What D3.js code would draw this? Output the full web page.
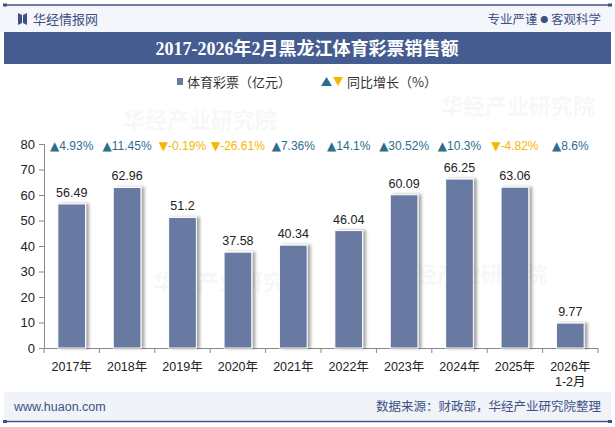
<!DOCTYPE html>
<html>
<head>
<meta charset="utf-8">
<script src="https://cdn.jsdelivr.net/npm/d3@7"></script>
<style>
  body { margin: 0; background: #fff; }
  svg { display: block; font-family: "Liberation Sans", Arial, "Noto Sans CJK SC", sans-serif; }
</style>
</head>
<body>
<div id="chart"></div>
<script>
// data
var years = ["2017年", "2018年", "2019年", "2020年", "2021年", "2022年", "2023年", "2024年", "2025年", "2026年\n1-2月"];
var sales = [56.49, 62.96, 51.2, 37.58, 40.34, 46.04, 60.09, 66.25, 63.06, 9.77];
var growth = [4.93, 11.45, -0.19, -26.61, 7.36, 14.1, 30.52, 10.3, -4.82, 8.6];
var growthText = ["4.93%", "11.45%", "-0.19%", "-26.61%", "7.36%", "14.1%", "30.52%", "10.3%", "-4.82%", "8.6%"];
var yTicks = [0, 10, 20, 30, 40, 50, 60, 70, 80];

var w = 615, h = 427;
var barColor = "#6879a2";
var upColor = "#2f6d8e";
var downColor = "#f5b800";

var svg = d3.select("#chart").append("svg")
  .attr("width", w)
  .attr("height", h);

var defs = svg.append("defs");
var f = defs.append("filter").attr("id", "shadow")
  .attr("x", "-20%").attr("y", "-5%").attr("width", "160%").attr("height", "110%");
f.append("feDropShadow")
  .attr("dx", 3).attr("dy", 0).attr("stdDeviation", 1.6)
  .attr("flood-color", "#000").attr("flood-opacity", 0.35);

// header
svg.append("rect").attr("x", 0).attr("y", 5).attr("width", w).attr("height", 27).attr("fill", "#f4f6fb");
svg.append("line").attr("x1", 4).attr("x2", 611).attr("y1", 5).attr("y2", 5)
  .attr("stroke", "#3d5184").attr("stroke-width", 1.5);
svg.append("rect").attr("x", 3).attr("y", 3.5).attr("width", 4).attr("height", 3).attr("fill", "#3d5184");
svg.append("rect").attr("x", 608).attr("y", 3.5).attr("width", 4).attr("height", 3).attr("fill", "#3d5184");

// logo
svg.append("path")
  .attr("d", "M18,13 L22,15 L22,23 L18,25 Z M27,13 L23,15 L23,23 L27,25 Z")
  .attr("fill", "#3d5184");
svg.append("text").attr("x", 33).attr("y", 23.5).text("华经情报网")
  .attr("font-size", 13).attr("fill", "#3d5184").attr("font-family", "Noto Sans CJK SC");
var slogan = svg.append("text").attr("x", 601).attr("y", 23.5).attr("text-anchor", "end")
  .attr("font-size", 12.5).attr("fill", "#3d5184").attr("font-family", "Noto Sans CJK SC");
slogan.append("tspan").text("专业严谨 ");
slogan.append("tspan").text("●").attr("font-size", 8).attr("dy", -1);
slogan.append("tspan").text(" 客观科学").attr("dy", 1);

// title band
svg.append("rect").attr("x", 4).attr("y", 32).attr("width", 607).attr("height", 32).attr("fill", "#455c91");
svg.append("text").attr("x", 307).attr("y", 54.5).attr("text-anchor", "middle")
  .text("2017-2026年2月黑龙江体育彩票销售额")
  .attr("font-size", 18).attr("font-weight", "bold").attr("fill", "#fff")
  .attr("font-family", "'Liberation Serif', 'Noto Sans CJK SC', serif");

// faint watermarks
var wm = [[200, 128], [518, 114], [230, 290], [470, 282]];
wm.forEach(function(p) {
  svg.append("text").attr("x", p[0]).attr("y", p[1]).attr("text-anchor", "middle")
    .text("华经产业研究院")
    .attr("font-size", 22).attr("font-weight", "bold")
    .attr("fill", "#c8ccd6").attr("opacity", 0.15)
    .attr("font-family", "Noto Sans CJK SC");
});

// scales
var x = d3.scaleBand().domain(years).range([44, 598]).paddingInner(0.5).paddingOuter(0.25);
var y = d3.scaleLinear().domain([0, 80]).range([348, 144]);

// y axis
var yAxis = svg.append("g").attr("transform", "translate(44,0)")
  .call(d3.axisLeft(y).tickValues(yTicks).tickSize(5).tickPadding(4));
yAxis.select(".domain").attr("stroke", "#888");
yAxis.selectAll(".tick line").attr("stroke", "#888");
yAxis.selectAll("text").attr("font-size", 13).attr("fill", "#222")
  .attr("font-family", "'Liberation Sans', Arial, sans-serif");

// x axis with ticks between bands
var band = x.step();
var xAxis = svg.append("g");
xAxis.append("line").attr("x1", 44).attr("x2", 598).attr("y1", 348.5).attr("y2", 348.5).attr("stroke", "#888");
xAxis.selectAll("line.tk").data(d3.range(years.length + 1)).join("line")
  .attr("class", "tk")
  .attr("x1", function(i) { return 44 + i * band; })
  .attr("x2", function(i) { return 44 + i * band; })
  .attr("y1", 348).attr("y2", 353)
  .attr("stroke", "#888");

xAxis.selectAll("text.lbl").data(years).join("text")
  .attr("class", "lbl")
  .attr("x", function(d) { return x(d) + x.bandwidth() / 2; })
  .attr("y", 371)
  .attr("text-anchor", "middle")
  .attr("font-size", 12.5).attr("fill", "#222")
  .attr("font-family", "'Liberation Sans', 'Noto Sans CJK SC', sans-serif")
  .each(function(d) {
    var parts = d.split("\n");
    var t = d3.select(this);
    parts.forEach(function(p, i) {
      t.append("tspan").attr("x", x(d) + x.bandwidth() / 2).attr("dy", i ? 15 : 0).text(p);
    });
  });

// bars
svg.append("g").selectAll("rect").data(sales).join("rect")
  .attr("x", function(d, i) { return x(years[i]); })
  .attr("y", function(d) { return y(d); })
  .attr("width", x.bandwidth())
  .attr("height", function(d) { return y(0) - y(d); })
  .attr("fill", barColor)
  .attr("stroke", "#fff").attr("stroke-width", 1)
  .attr("filter", "url(#shadow)");

// value labels
svg.append("g").selectAll("text").data(sales).join("text")
  .attr("x", function(d, i) { return x(years[i]) + x.bandwidth() / 2; })
  .attr("y", function(d) { return y(d) - 7; })
  .attr("text-anchor", "middle")
  .attr("font-size", 12.5).attr("fill", "#222")
  .text(function(d) { return d; });

// growth row
svg.append("g").selectAll("text").data(growth).join("text")
  .attr("x", function(d, i) { return x(years[i]) + x.bandwidth() / 2; })
  .attr("y", 149.5)
  .attr("text-anchor", "middle")
  .attr("font-size", 12)
  .attr("fill", function(d) { return d >= 0 ? upColor : downColor; })
  .each(function(d, i) {
    var t = d3.select(this);
    t.append("tspan").attr("font-family", "'DejaVu Sans', sans-serif").attr("font-size", 12)
      .text(d >= 0 ? "▲" : "▼");
    t.append("tspan").text(growthText[i]);
  });

// legend
var lg = svg.append("g");
lg.append("rect").attr("x", 177).attr("y", 78).attr("width", 6).attr("height", 7).attr("fill", barColor);
lg.append("text").attr("x", 187).attr("y", 86.5).text("体育彩票（亿元）")
  .attr("font-size", 13).attr("fill", "#333").attr("font-family", "Noto Sans CJK SC");
lg.append("path").attr("d", "M321,86 L326.5,77 L332,86 Z").attr("fill", upColor);
lg.append("path").attr("d", "M333,77 L343,77 L338,86 Z").attr("fill", downColor);
lg.append("text").attr("x", 347).attr("y", 86.5).text("同比增长（%）")
  .attr("font-size", 13).attr("fill", "#333").attr("font-family", "Noto Sans CJK SC");

// footer
svg.append("rect").attr("x", 4).attr("y", 392).attr("width", 607).attr("height", 28).attr("fill", "#f0f3f8");
svg.append("line").attr("x1", 4).attr("x2", 611).attr("y1", 421.5).attr("y2", 421.5)
  .attr("stroke", "#3d5184").attr("stroke-width", 1.5);
svg.append("rect").attr("x", 3).attr("y", 420).attr("width", 4).attr("height", 3).attr("fill", "#3d5184");
svg.append("rect").attr("x", 608).attr("y", 420).attr("width", 4).attr("height", 3).attr("fill", "#3d5184");
svg.append("text").attr("x", 14).attr("y", 411).text("www.huaon.com")
  .attr("font-size", 12.5).attr("fill", "#3d5184");
svg.append("text").attr("x", 601).attr("y", 411).attr("text-anchor", "end")
  .text("数据来源：财政部，华经产业研究院整理")
  .attr("font-size", 12.5).attr("fill", "#3d5184").attr("font-family", "Noto Sans CJK SC");
</script>
</body>
</html>
